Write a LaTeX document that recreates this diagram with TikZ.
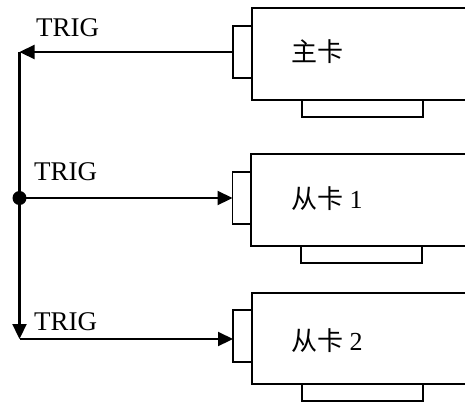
\documentclass[tikz,border=0pt]{standalone}
\usepackage{fontspec}
\setmainfont{Liberation Serif}
\newfontfamily\cjk{Noto Sans CJK SC}
\usetikzlibrary{arrows.meta}
\begin{document}
\begin{tikzpicture}[x=1pt,y=-1pt,
 conn/.style={draw,line width=1.5pt,minimum width=19pt,minimum height=52pt,inner sep=0pt,outer sep=0pt},
 tabbox/.style={draw,line width=1.5pt,minimum width=121pt,minimum height=17pt,inner sep=0pt,outer sep=0pt},
 body/.style={draw,line width=1.5pt},
 wire/.style={line width=2.2pt},
 tip/.style={-{Triangle[length=15pt,width=14pt]}},
 lbl/.style={font=\fontsize{27}{27}\selectfont, anchor=base west, inner sep=0pt},
 ctext/.style={font=\fontsize{26}{26}\selectfont, anchor=west, inner sep=0pt}]
\useasboundingbox (0,0) rectangle (465,405);
% card bodies
\draw[body] (466,8) -- (252,8) -- (252,100) -- (466,100);
\draw[body] (466,154) -- (251,154) -- (251,246) -- (466,246);
\draw[body] (466,293) -- (252,293) -- (252,384) -- (466,384);
% connectors
\node[conn] (c1) at (242.5,52) {};
\node[conn] (c2) at (242,198) {};
\node[conn] (c3) at (242.5,336) {};
% tabs
\node[tabbox] (t1) at (362.5,108.5) {};
\node[tabbox] (t2) at (361.5,254.5) {};
\node[tabbox] (t3) at (362.5,392.5) {};
% card names
\node[ctext] (n1) at (291,52) {\cjk 主卡};
\node[ctext] (n2) at (291,199) {{\cjk 从卡} 1};
\node[ctext] (n3) at (291,341) {{\cjk 从卡} 2};
% bus
\coordinate (top) at (19.5,52);
\coordinate (bot) at (19.5,339);
\coordinate (mid) at (19.5,198);
\coordinate (c3in) at (c3.west |- bot);
\draw[wire,tip] (c1.west) -- (top);
\draw[wire,tip] (top) -- (bot);
\draw[wire,tip] (mid) -- (c2.west);
\draw[wire,tip] (bot) -- (c3in);
\fill (mid) circle (7pt);
% labels
\node[lbl] (l1) at (36,36) {TRIG};
\node[lbl] (l2) at (34,180) {TRIG};
\node[lbl] (l3) at (34,330) {TRIG};
\end{tikzpicture}
\end{document}
